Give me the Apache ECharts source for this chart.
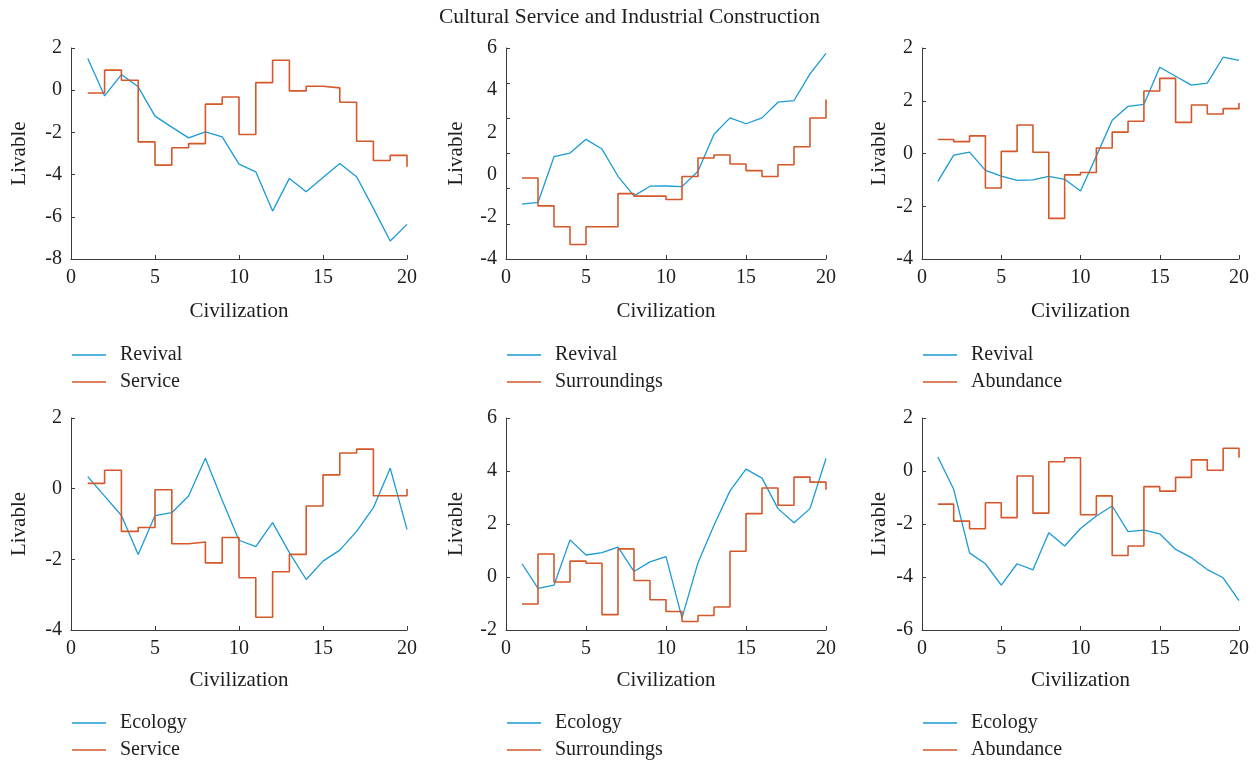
<!DOCTYPE html>
<html>
<head>
<meta charset="utf-8">
<title>Cultural Service and Industrial Construction</title>
<script src="https://cdn.jsdelivr.net/npm/echarts@6/dist/echarts.min.js"></script>
<style>
  html, body { margin: 0; padding: 0; background: #fff; }
  #chart { width: 1259px; height: 762px; }
</style>
</head>
<body>
<div id="chart"></div>
<script>
// Civilization index (x values shared by all panels)
const civilization = [1, 2, 3, 4, 5, 6, 7, 8, 9, 10, 11, 12, 13, 14, 15, 16, 17, 18, 19, 20];
const xTicks = [0, 5, 10, 15, 20];

// Top row
const revivalA = [1.50, -0.27, 0.74, 0.16, -1.23, -1.75, -2.26, -1.97, -2.21, -3.50, -3.87, -5.73, -4.18, -4.81, -4.14, -3.47, -4.10, -5.60, -7.15, -6.36];
const serviceA = [-0.13, 0.95, 0.47, -2.45, -3.55, -2.73, -2.53, -0.66, -0.32, -2.10, 0.36, 1.42, -0.03, 0.19, 0.11, -0.57, -2.42, -3.33, -3.09, -3.63];
const revivalB = [-1.40, -1.32, 0.85, 1.02, 1.67, 1.21, -0.08, -1.01, -0.55, -0.54, -0.57, 0.16, 1.91, 2.69, 2.41, 2.69, 3.43, 3.51, 4.77, 5.75];
const surroundingsB = [-0.16, -1.48, -2.47, -3.31, -2.47, -2.47, -0.90, -1.02, -1.02, -1.18, -0.09, 0.79, 0.93, 0.50, 0.19, -0.09, 0.47, 1.32, 2.68, 3.56];
const revivalC = [-1.06, -0.06, 0.05, -0.64, -0.86, -1.02, -1.00, -0.87, -0.98, -1.42, -0.10, 1.26, 1.79, 1.86, 3.27, 2.93, 2.59, 2.67, 3.65, 3.53];
const abundanceC = [0.53, 0.45, 0.67, -1.31, 0.08, 1.08, 0.05, -2.46, -0.81, -0.72, 0.21, 0.81, 1.22, 2.37, 2.85, 1.18, 1.84, 1.50, 1.70, 1.91];

// Bottom row
const ecologyD = [0.34, -0.21, -0.76, -1.86, -0.76, -0.68, -0.21, 0.86, -0.33, -1.46, -1.64, -0.96, -1.81, -2.57, -2.05, -1.74, -1.21, -0.54, 0.58, -1.15];
const serviceD = [0.15, 0.52, -1.21, -1.10, -0.03, -1.56, -1.51, -2.10, -1.38, -2.52, -3.64, -2.35, -1.86, -0.49, 0.39, 1.01, 1.12, -0.20, -0.20, -0.01];
const ecologyE = [0.50, -0.43, -0.31, 1.40, 0.83, 0.92, 1.13, 0.21, 0.57, 0.77, -1.54, 0.54, 1.95, 3.25, 4.07, 3.73, 2.58, 2.05, 2.58, 4.47];
const surroundingsE = [-1.02, 0.87, -0.19, 0.60, 0.52, -1.42, 1.06, -0.13, -0.86, -1.30, -1.68, -1.45, -1.13, 0.97, 2.39, 3.36, 2.71, 3.77, 3.58, 3.29];
const ecologyF = [0.53, -0.69, -3.09, -3.50, -4.31, -3.50, -3.73, -2.33, -2.83, -2.17, -1.70, -1.32, -2.29, -2.23, -2.37, -2.96, -3.27, -3.72, -4.03, -4.89];
const abundanceF = [-1.25, -1.89, -2.18, -1.20, -1.76, -0.19, -1.59, 0.35, 0.50, -1.65, -0.94, -3.19, -2.83, -0.59, -0.76, -0.24, 0.42, 0.03, 0.86, 0.50];

// y tick values and the labels printed next to them
const yTicksA = [-8, -6, -4, -2, 0, 2];
const yLabelsA = ['-8', '-6', '-4', '-2', '0', '2'];
const yTicksB = [-4, -2, 0, 2, 4, 6];
const yLabelsB = ['-4', '-2', '0', '2', '4', '6'];
const yTicksC = [-4, -2, 0, 2, 4];
const yLabelsC = ['-4', '-2', '0', '2', '2'];
const yTicksD = [-4, -2, 0, 2];
const yLabelsD = ['-4', '-2', '0', '2'];
const yTicksE = [-2, 0, 2, 4, 6];
const yLabelsE = ['-2', '0', '2', '4', '6'];
const yTicksF = [-6, -4, -2, 0, 2];
const yLabelsF = ['-6', '-4', '-2', '0', '2'];

const BLUE = '#1a9ad6';
const ORANGE = '#d4582a';
const AXIS = '#3a3a3a';
const FONT = '"Liberation Serif", "DejaVu Serif", serif';
const TEXT = '#1e1e1e';

const panels = [
  { left: 71,  top: 48,  width: 336, height: 211, ticks: yTicksA, labels: yLabelsA, nameGap: 41, xGap: 42, legendGap: 86, lines: [['Revival', revivalA], ['Service', serviceA]] },
  { left: 506, top: 48,  width: 320, height: 211, ticks: yTicksB, labels: yLabelsB, nameGap: 39, xGap: 42, legendGap: 86, tickMarks: 7, lines: [['Revival', revivalB], ['Surroundings', surroundingsB]] },
  { left: 922, top: 48,  width: 317, height: 211, ticks: yTicksC, labels: yLabelsC, nameGap: 32, xGap: 42, legendGap: 86, lines: [['Revival', revivalC], ['Abundance', abundanceC]] },
  { left: 71,  top: 418, width: 336, height: 212, ticks: yTicksD, labels: yLabelsD, nameGap: 41, xGap: 40, legendGap: 83, lines: [['Ecology', ecologyD], ['Service', serviceD]] },
  { left: 506, top: 418, width: 320, height: 212, ticks: yTicksE, labels: yLabelsE, nameGap: 39, xGap: 40, legendGap: 83, lines: [['Ecology', ecologyE], ['Surroundings', surroundingsE]] },
  { left: 922, top: 418, width: 317, height: 212, ticks: yTicksF, labels: yLabelsF, nameGap: 32, xGap: 40, legendGap: 83, lines: [['Ecology', ecologyF], ['Abundance', abundanceF]] }
];

const grid = [], xAxis = [], yAxis = [], series = [], legend = [];

panels.forEach((p, i) => {
  grid.push({ left: p.left, top: p.top, width: p.width, height: p.height, containLabel: false });

  xAxis.push({
    type: 'value', gridIndex: i, min: xTicks[0], max: xTicks[xTicks.length - 1], interval: 5,
    name: 'Civilization', nameLocation: 'middle', nameGap: p.xGap,
    nameTextStyle: { fontFamily: FONT, fontSize: 21, color: TEXT },
    axisLine: { show: true, onZero: false, lineStyle: { color: AXIS, width: 1 } },
    axisTick: { show: true, inside: true, length: 4, lineStyle: { color: AXIS } },
    axisLabel: { fontFamily: FONT, fontSize: 20, color: TEXT, margin: 9 },
    splitLine: { show: false }
  });

  const yMin = p.ticks[0], yMax = p.ticks[p.ticks.length - 1];
  // evenly spaced tick marks along the axis (may differ in count from the labels)
  const nMarks = p.tickMarks || p.ticks.length;
  const markValues = [];
  for (let k = 0; k < nMarks; k++) markValues.push(yMin + (yMax - yMin) * k / (nMarks - 1));

  yAxis.push({
    type: 'value', gridIndex: i, min: yMin, max: yMax, interval: 2,
    name: 'Livable', nameLocation: 'middle', nameGap: p.nameGap, nameRotate: 90,
    nameTextStyle: { fontFamily: FONT, fontSize: 21, color: TEXT },
    axisLine: { show: true, onZero: false, lineStyle: { color: AXIS, width: 1 } },
    axisTick: { show: true, inside: true, length: 4, lineStyle: { color: AXIS }, customValues: markValues },
    axisLabel: {
      fontFamily: FONT, fontSize: 20, color: TEXT, margin: 9,
      customValues: p.ticks,
      formatter: (v) => {
        const k = p.ticks.findIndex(t => Math.abs(t - v) < 1e-9);
        return k >= 0 ? p.labels[k] : '';
      }
    },
    splitLine: { show: false }
  });

  const [lineName, lineVals] = p.lines[0];
  const [stepName, stepVals] = p.lines[1];
  series.push({
    name: lineName, type: 'line', xAxisIndex: i, yAxisIndex: i,
    data: civilization.map((c, k) => [c, lineVals[k]]),
    symbol: 'none', lineStyle: { color: BLUE, width: 1.3 }, itemStyle: { color: BLUE },
    animation: false
  });
  series.push({
    name: stepName, type: 'line', xAxisIndex: i, yAxisIndex: i, step: 'end',
    data: civilization.map((c, k) => [c, stepVals[k]]),
    symbol: 'none', lineStyle: { color: ORANGE, width: 1.6 }, itemStyle: { color: ORANGE },
    animation: false
  });

  legend.push({
    data: [
      { name: lineName, icon: 'rect', itemStyle: { color: BLUE } },
      { name: stepName, icon: 'rect', itemStyle: { color: ORANGE } }
    ],
    orient: 'vertical', left: p.left + 1, top: p.top + p.height + p.legendGap,
    padding: 0,
    itemWidth: 34, itemHeight: 1.6, itemGap: 7,
    selectedMode: false,
    textStyle: { fontFamily: FONT, fontSize: 20, color: TEXT, lineHeight: 20, padding: [0, 0, 0, 9] }
  });
});

const chart = echarts.init(document.getElementById('chart'), null, { renderer: 'canvas' });
chart.setOption({
  backgroundColor: '#ffffff',
  animation: false,
  title: {
    text: 'Cultural Service and Industrial Construction',
    left: 'center', top: 1,
    textStyle: { fontFamily: FONT, fontSize: 21.5, fontWeight: 'normal', color: TEXT }
  },
  grid, xAxis, yAxis, series, legend
});
</script>
</body>
</html>
